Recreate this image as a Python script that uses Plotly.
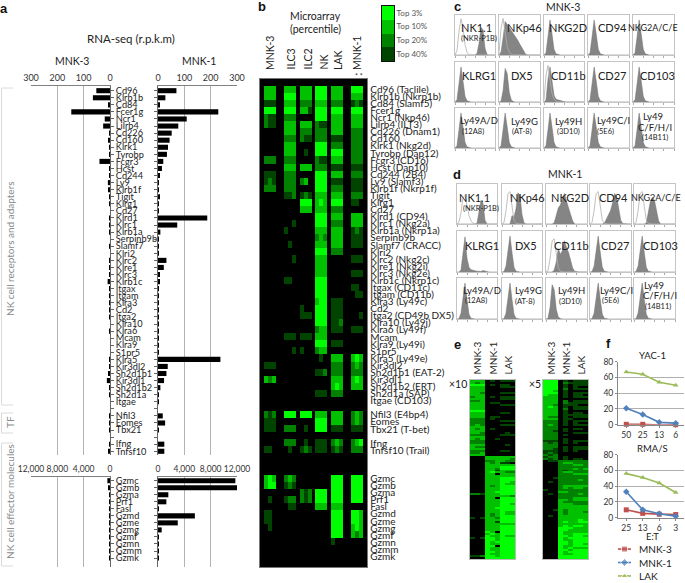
import plotly.graph_objects as go

W, H = 685, 583
FONT = "Lato"

# ---------- panel a data ----------
GENES_A = ["Cd96","Klrb1b","Cd84","Fcer1g","Ncr1","Lilrb4","Cd226","Cd160","Klrk1","Tyrobp",
           "Fcgr3","Hcst","Cd244","Ly9","Klrb1f","Tigit","Klrg1","Cd27","Klrd1","Klrc1",
           "Klrb1a","Serpinb9b","Slamf7","Klri2","Klrc2","Klre1","Klrc3","Klrb1c","Itgax","Itgam",
           "Klra3","Cd2","Itga2","Klra10","Klra6","Mcam","Klra9","S1pr5","Klra5","Kir3dl2",
           "Sh2d1b1","Kir3dl1","Sh2d1b2","Sh2d1a","Itgae","","Nfil3","Eomes","Tbx21","",
           "Ifng","Tnfsf10"]
RPKM_MNK3 = [52,65,4,147,20,26,2,5,1,1,
             40,1,1,8,5,1,1,0,1,1,
             1,0,1,0,1,1,1,9,1,1,
             1,1,1,0,1,0,0,0,1,3,
             5,12,1,1,0,0,1,3,1,0,
             1,4]
RPKM_MNK1 = [70,28,5,229,109,77,52,44,38,34,
             20,15,7,1,2,4,1,1,187,73,
             9,2,2,1,32,22,5,5,2,3,
             2,1,2,1,2,1,1,1,237,37,
             32,23,9,1,1,0,18,27,1,0,
             24,24]
GENES_EFF = ["Gzmc","Gzmb","Gzma","Prf1","Fasl","Gzmd","Gzme","Gzmg","Gzmf","Gzmn","Gzmm","Gzmk"]
EFF_MNK3 = [400,250,20,20,5,10,10,5,5,5,5,5]
EFF_MNK1 = [11750,12000,1570,1270,30,5600,3000,560,80,20,20,20]

# ---------- panel b data ----------
GENES_B = ["Cd96 (Taclile)","Klrb1b (Nkrp1b)","Cd84 (Slamf5)","Fcer1g","Ncr1 (Nkp46)","Lilrb4 (ILT3)",
           "Cd226 (Dnam1)","Cd160","Klrk1 (Nkg2d)","Tyrobp (Dap12)","Fcgr3 (CD16)","Hcst (Dap10)",
           "Cd244 (2B4)","Ly9 (Slamf3)","Klrb1f (Nkrp1f)","Tigit","Klrg1","Cd27","Klrd1 (CD94)",
           "Klrc1 (Nkg2a)","Klrb1a (Nkrp1a)","Serpinb9b","Slamf7 (CRACC)","Klri2","Klrc2 (Nkg2c)",
           "Klre1 (Nkg2i)","Klrc3 (Nkg2e)","Klrb1c (Nkrp1c)","Itgax (CD11c)","Itgam (CD11b)",
           "Klra3 (Ly49c)","Cd2","Itga2 (CD49b DX5)","Klra10 (Ly49j)","Klra6 (Ly49f)","Mcam",
           "Klra9 (Ly49i)","S1pr5","Klra5 (Ly49e)","Kir3dl2","Sh2d1b1 (EAT-2)","Kir3dl1",
           "Sh2d1b2 (ERT)","Sh2d1a (SAP)","Itgae (CD103)","","Nfil3 (E4bp4)","Eomes","Tbx21 (T-bet)","",
           "Ifng","Tnfsf10 (Trail)","","","","Gzmc","Gzmb","Gzma","Prf1","Fasl","Gzmd","Gzme","Gzmg",
           "Gzmf","Gzmn","Gzmm","Gzmk"]
B_MNK3 = ("333 333 111 444 211 211 000 000 000 000 "
          "222 000 111 121 222 000 000 000 000 000 "
          "000 000 000 000 000 000 000 000 000 000 "
          "000 000 000 000 000 000 000 000 000 111 "
          "000 323 000 000 000 000 212 111 111 000 "
          "000 110 000 000 000 343 344 000 010 000 "
          "110 110 010 000 000 000 000").split()
B_ILC3 = ("333 444 333 444 222 333 333 222 333 333 "
          "222 333 222 222 222 112 000 000 000 001 "
          "100 000 010 000 001 000 000 110 000 000 "
          "000 000 000 000 000 111 000 001 000 000 "
          "000 000 000 000 000 000 444 000 222 000 "
          "222 010 000 000 000 232 121 000 122 011 "
          "000 000 000 000 000 000 000").split()
B_ILC2 = ("333 333 222 331 000 333 222 211 000 010 "
          "000 333 000 230 000 121 444 333 000 000 "
          "000 000 000 000 000 000 000 000 000 000 "
          "000 100 111 000 000 111 000 100 000 000 "
          "000 000 000 000 000 000 444 000 010 000 "
          "010 121 000 000 000 000 000 212 212 000 "
          "000 000 000 000 000 000 000").split()
B_NK = ("444 444 333 444 444 211 222 222 444 444 "
        "211 222 444 444 444 333 343 333 444 444 "
        "333 232 333 444 333 333 333 444 444 444 "
        "344 444 444 444 233 333 444 233 010 000 "
        "112 000 000 111 000 000 333 444 444 000 "
        "111 111 000 000 000 000 000 444 444 333 "
        "000 000 000 000 000 000 000").split()
B_LAK = ("333 333 222 444 333 333 333 111 222 444 "
         "333 111 333 111 222 333 444 222 333 222 "
         "333 333 333 222 000 000 000 000 000 000 "
         "111 111 111 112 111 000 111 000 333 222 "
         "222 333 343 222 000 000 333 333 111 000 "
         "232 121 000 000 000 444 444 444 444 333 "
         "444 444 444 444 100 000 000").split()
B_MNK1 = ("444 333 121 444 333 333 222 222 222 222 "
          "222 111 222 111 111 222 110 000 333 333 "
          "121 111 111 000 111 000 111 000 110 011 "
          "000 000 001 000 111 000 000 000 343 232 "
          "222 343 333 000 000 000 232 232 111 000 "
          "234 222 000 000 000 444 444 444 444 000 "
          "443 443 343 323 000 000 000").split()
B_COLUMNS = ["MNK-3","ILC3","ILC2","NK","LAK","MNK-1"]
SCALE_LEVELS = [4,3,2,1]
SCALE_LABELS = ["Top 3%","Top 10%","Top 20%","Top 40%"]

# ---------- panels c, d data: histogram heights on a 21-bin channel grid ----------
NEG_A = [0,6,48,92,55,15,3,1,0,0,0,0,0,0,0,0,0,0,0,0,0]
NEG_B = [0,1,15,60,92,50,12,2,0,0,0,0,0,0,0,0,0,0,0,0,0]
NEG_C = [0,2,30,88,75,25,5,1,0,0,0,0,0,0,0,0,0,0,0,0,0]
C_NK11 = [0,0,0,0,0,0,0,0,0,0,0,4,30,72,66,18,1,0,0,0,0]
ISO_A = [0,12,62,95,72,28,7,1,0,0,0,0,0,0,0,0,0,0,0,0,0]
C_NKP46 = [0,8,45,88,80,72,65,58,50,40,30,20,8,2,0,0,0,0,0,0,0]
ISO_B = [5,70,96,60,22,8,2,0,0,0,0,0,0,0,0,0,0,0,0,0,0]
C_CD11B = [0,5,60,92,55,18,7,5,4,3,1,0,0,0,0,0,0,0,0,0,0]
D_NK11 = [0,0,0,0,0,0,0,0,0,0,2,30,62,55,10,0,0,0,0,0,0]
D_ISO = [0,5,30,70,75,50,22,8,2,0,0,0,0,0,0,0,0,0,0,0,0]
D_NKP46 = [0,0,0,0,0,22,18,40,82,75,25,3,0,0,0,0,0,0,0,0,0]
D_ISO2 = [0,4,35,80,85,40,10,2,0,0,0,0,0,0,0,0,0,0,0,0,0]
D_NKG2D = [0,0,0,0,3,25,42,50,65,80,60,45,25,8,0,0,0,0,0,0,0]
D_CD94 = [0,0,0,0,0,0,0,2,12,22,35,55,80,72,35,10,1,0,0,0,0]
D_NKG2A = [0,0,0,0,0,0,2,30,60,70,62,35,8,0,0,0,0,0,0,0,0]
D_KLRG1 = [0,0,5,55,90,35,12,6,4,3,2,2,1,4,2,0,0,0,0,0,0]
D_CD11B = [0,0,0,0,5,25,60,45,55,80,62,50,30,10,2,0,0,0,0,0,0]

HIST_C = [[C_NK11,C_NKP46,NEG_A,NEG_A,NEG_A],
          [NEG_A,NEG_C,C_CD11B,NEG_A,NEG_A],
          [NEG_A,NEG_A,NEG_A,NEG_A,NEG_A]]
ISO_C = [[ISO_A,ISO_B,None,None,None],
         [None,None,ISO_B,None,None],
         [None,None,None,None,None]]
HIST_D = [[D_NK11,D_NKP46,D_NKG2D,D_CD94,D_NKG2A],
          [D_KLRG1,NEG_B,D_CD11B,NEG_B,NEG_B],
          [NEG_B,NEG_B,NEG_C,NEG_B,NEG_B]]
ISO_D = [[D_ISO,D_ISO2,None,D_ISO2,D_ISO2],
         [None,None,D_ISO2,None,None],
         [None,None,None,None,None]]

# ---------- panel e data: per-sample replicate columns, top to bottom ----------
E10_MNK3 = ["33433333232333343332222333323322333223"+"0000000000000000000200000000000100000000010000000010",
            "32433333332333343332223323323222323223"+"0000000000000000000200000000000000000000000000000010",
            "33433323333333343332222333223322323233"+"0000000000000000000100000000000100000000010000000020"]
E10_MNK1 = ["00000000000000000000000000000000000000"+"3323333333333333333333333333333333333343444444444444",
            "10100000100100000011000010000000000000"+"3322333343333332333333333333322333333334344334334344",
            "00000000000100000010000000000100000000"+"3333332130333333334330333343333231333303333430333334"]
E10_LAK = ["10110010110010001000101000010000000100"+"3331344333344444444434444444444444344444444444444444",
           "10110010110010001000101000110000100100"+"3321344323344434444434444444334444344444344444444444",
           "10010010110010000000101000010000000000"+"3220344323344334444424443444334444344444344444444444"]
E5_MNK3 = ["4444444433333333333322222222221222211212"+"00000000000000010000000000000000000000000000000000",
           "4444444333333433332322322222221122212121"+"10000000000100000100000000001000000000000000000000",
           "4444434333332333332322222122221222111222"+"10000000010000000000000001000000000000000000000000"]
E5_MNK1 = ["0000000000000000000000000000000000000000"+"22222222222222223222333333333333334444444444444444",
           "1211211110221121111111101101011101110011"+"23222132222223323222323332223334344433433443343344",
           "0100000000011000010100000000000000000000"+"23222232222223222222223333333333334333343333434344"]
E5_LAK = ["1111101110111110111011101010001101110001"+"22323223222223322223322333333333343334444444344444",
          "1110101110110110111010101010001001100001"+"22322223223223322323322333333344343334444444344444",
          "1110101010110110011010100010001001100000"+"22223223222223222223322333233334333334344434344444"]

# ---------- panel f data ----------
YAC_CATS = ["50","25","13","6"]
YAC_MNK3 = [0.5,0.5,-0.5,0]
YAC_MNK1 = [21,13,3,2]
YAC_LAK = [67,64,54,50]
RMA_CATS = ["25","13","6","3"]
RMA_MNK3 = [10,5.5,4.5,4]
RMA_MNK1 = [33,10,5,2]
RMA_LAK = [56,51,44,32]
SERIES_NAMES = ["MNK-3","MNK-1","LAK"]
SERIES_COLORS = ["#C0504D","#4F81BD","#9BBB59"]
SERIES_SYMBOLS = ["square","diamond","triangle-up"]

GREEN = [[0,"#000000"],[0.25,"#004400"],[0.5,"#008200"],[0.75,"#00c000"],[1,"#00ff00"]]

fig = go.Figure()
layout = {}
annots = []
shapes = []
_n = [1]

def axes(l, r, t, b, xo, yo):
    _n[0] += 1
    n = _n[0]
    layout[f"xaxis{n}"] = dict(domain=[l/W, r/W], anchor=f"y{n}", automargin=False, **xo)
    layout[f"yaxis{n}"] = dict(domain=[1-b/H, 1-t/H], anchor=f"x{n}", automargin=False, **yo)
    return f"x{n}", f"y{n}"

def text(x, y, s, size=10, color="#222", angle=0, xa="center", ya="middle", family=FONT, bold=False):
    annots.append(dict(x=x/W, y=1-y/H, xref="paper", yref="paper", text=f"<b>{s}</b>" if bold else s,
                       showarrow=False, xanchor=xa, yanchor=ya, textangle=angle,
                       font=dict(size=size, color=color, family=family)))

# ---------- panel a ----------
def bar_panel(vals, genes, rng, tickv, l, r, t, b, row0, rowh, left, tsize):
    rows = list(range(len(genes)))
    xo = dict(range=rng, side="top", showgrid=True, gridcolor="#b4b4b4", gridwidth=1, zeroline=False,
              tickvals=tickv, tickformat=",", ticks="", tickangle=0,
              tickfont=dict(size=tsize, color="#333", family=FONT),
              showline=True, linecolor="#808080", linewidth=1.3, fixedrange=True)
    yo = dict(range=[(b-row0)/rowh, (t-row0)/rowh], tickvals=rows, ticks="outside", ticklen=3, tickcolor="#666",
              showgrid=False, zeroline=False, showline=True, linecolor="#666", linewidth=1)
    if left:
        yo.update(side="right", ticktext=genes, showticklabels=True,
                  tickfont=dict(size=9.2, color="#222", family=FONT))
    else:
        yo.update(side="left", showticklabels=False)
    xa, ya = axes(l, r, t, b, xo, yo)
    fig.add_bar(x=vals, y=rows, orientation="h", width=0.72, marker=dict(color="#000000", line_width=0),
                xaxis=xa, yaxis=ya, showlegend=False)

bar_panel(RPKM_MNK3, GENES_A, [300,0], [0,100,200,300], 31, 110, 86, 455, 90.7, 7.07, True, 9)
bar_panel(RPKM_MNK1, GENES_A, [0,300], [0,100,200,300], 158, 237, 86, 455, 90.7, 7.07, False, 9)
bar_panel(EFF_MNK3, GENES_EFF, [12000,0], [0,4000,8000,12000], 31, 110, 477, 567, 480.7, 7.03, True, 8.5)
bar_panel(EFF_MNK1, GENES_EFF, [0,12000], [0,4000,8000,12000], 158, 237, 477, 567, 480.7, 7.03, False, 8.5)

text(131, 38, "RNA-seq (r.p.k.m)", 11.5)
text(72, 61, "MNK-3", 10.5)
text(199, 61, "MNK-1", 10.5)
text(10, 249, "NK cell receptors and adapters", 10, "#8a8a8a", -90)
text(10, 422, "TF", 10, "#8a8a8a", -90)
text(10, 502, "NK cell effector molecules", 10, "#8a8a8a", -90)
for y0, y1 in [(88,405),(413,433),(443,566)]:
    shapes.append(dict(type="path", xref="paper", yref="paper",
                       path=f"M {13/W} {1-y0/H} L {1.5/W} {1-y0/H} L {1.5/W} {1-y1/H} L {13/W} {1-y1/H}",
                       line=dict(color="#d0d0d0", width=0.8)))

# ---------- panel b ----------
NROWS = len(GENES_B)
B_ALL = [B_MNK3, B_ILC3, B_ILC2, B_NK, B_LAK, B_MNK1]
B_START = [1, 6, 10, 14, 18, 23]
z_b = [[0]*27 for _ in range(NROWS)]
for lst, s in zip(B_ALL, B_START):
    for i, tok in enumerate(lst):
        for j, ch in enumerate(tok):
            z_b[i][s+j] = int(ch)
PAD_TOP = [[0]*27, [0]*27]
PAD_BOTTOM = [[0]*27, [0]*27]
z_b_full = PAD_TOP + z_b + PAD_BOTTOM
xa, ya = axes(260, 367.3, 79, 567,
              dict(range=[-0.5,26.5], showticklabels=False, ticks="", showgrid=False, zeroline=False,
                   showline=True, mirror=True, linecolor="#777", linewidth=1),
              dict(range=[67.5,-1.46], side="right", tickvals=list(range(NROWS)), ticktext=GENES_B, ticks="",
                   tickfont=dict(size=10, color="#222", family=FONT), showgrid=False, zeroline=False,
                   showline=True, mirror=True, linecolor="#777", linewidth=1))
fig.add_heatmap(z=z_b_full, x=list(range(27)), y=list(range(-2, NROWS+2)), colorscale=GREEN, zmin=0, zmax=4,
                showscale=False, xaxis=xa, yaxis=ya, xgap=0, ygap=0)
for name, x in zip(B_COLUMNS, [270,290,307,323,338,357]):
    text(x, 72, name, 10.5, angle=-90, ya="bottom")
text(359, 76, "* *", 7, "#333")
text(315, 16, "Microarray", 10.5)
text(315, 28.5, "(percentile)", 10.5)
xa, ya = axes(382, 394, 6, 61,
              dict(range=[-0.5,0.5], showticklabels=False, ticks="", showgrid=False, zeroline=False,
                   showline=True, mirror=True, linecolor="#111", linewidth=1),
              dict(range=[3.5,-0.5], side="right", tickvals=[0,1,2,3], ticktext=SCALE_LABELS, ticks="",
                   tickfont=dict(size=8, color="#555", family=FONT), showgrid=False, zeroline=False,
                   showline=True, mirror=True, linecolor="#111", linewidth=1))
fig.add_heatmap(z=[[v] for v in SCALE_LEVELS], x=[0], y=[0,1,2,3], colorscale=GREEN, zmin=0, zmax=4,
                showscale=False, xaxis=xa, yaxis=ya)

# ---------- panels c, d ----------
GRID = [i/20 for i in range(21)]
def hist_block(columns, rows, hist, iso):
    for ri, (t, b) in enumerate(rows):
        for ci, (l, r) in enumerate(columns):
            xa, ya = axes(l, r, t, b,
                          dict(range=[0,1], showticklabels=False, ticks="outside", ticklen=2, tickcolor="#aaa",
                               tickvals=[0,0.25,0.5,0.75,1], showgrid=False, zeroline=False,
                               showline=True, mirror=True, linecolor="#c4c4c4", linewidth=1),
                          dict(range=[0,105], showticklabels=False, ticks="", showgrid=False, zeroline=False,
                               showline=True, mirror=True, linecolor="#c4c4c4", linewidth=1))
            fig.add_scatter(x=GRID, y=hist[ri][ci], mode="lines", fill="tozeroy", fillcolor="#858585",
                            line=dict(color="#707070", width=0.5), xaxis=xa, yaxis=ya, showlegend=False)
            if iso[ri][ci] is not None:
                fig.add_scatter(x=GRID, y=iso[ri][ci], mode="lines", line=dict(color="#b0b0b0", width=0.8),
                                xaxis=xa, yaxis=ya, showlegend=False)

hist_block([(455,495),(499,540),(544,584),(588,629),(633,674)], [(15,55),(62,102),(108,148)], HIST_C, ISO_C)
hist_block([(457,497),(502,542),(546,587),(590,631),(634,675)], [(184,224),(231,272),(278,319)], HIST_D, ISO_D)

text(563, 7, "MNK-3", 10.5)
text(565, 174, "MNK-1", 10.5)
labels_c = [(476,28,"NK1.1",11),(479,39,"(NKR-P1B)",7.5),(524,28,"NKp46",11),(568,28,"NKG2D",11),(612,28,"CD94",11),
            (653,27,"NKG2A/C/E",9),(479,75,"KLRG1",11),(522,75,"DX5",11),(568,75,"CD11b",11),(612,75,"CD27",11),
            (657,75,"CD103",11),(479,121,"Ly49A/D",9.5),(473,131,"(12A8)",7.5),(524,122,"Ly49G",9.5),(522,132,"(AT-8)",7.5),
            (568,122,"Ly49H",9.5),(568,132,"(3D10)",7.5),(613,121,"Ly49C/I",9.5),(605,131,"(5E6)",7.5),(653,116,"Ly49",9.5),
            (655,127,"C/F/H/I",9.5),(655,137,"(14B11)",7.5)]
labels_d = [(474,197,"NK1.1",11),(481,209,"(NKR-P1B)",7.5),(527,197,"NKp46",11),(570,197,"NKG2D",11),(613,197,"CD94",11),
            (656,197,"NKG2A/C/E",9),(482,245,"KLRG1",11),(526,245,"DX5",11),(571,245,"CD11b",11),(615,245,"CD27",11),
            (660,245,"CD103",11),(482,290,"Ly49A/D",9.5),(476,300,"(12A8)",7.5),(528,290,"Ly49G",9.5),(525,301,"(AT-8)",7.5),
            (571,290,"Ly49H",9.5),(570,301,"(3D10)",7.5),(616,290,"Ly49C/I",9.5),(610,300,"(5E6)",7.5),(654,285,"Ly49",9.5),
            (660,295,"C/F/H/I",9.5),(658,306,"(14B11)",7.5)]
for x, y, s, size in labels_c + labels_d:
    text(x, y, s, size, "#222")

# ---------- panel e ----------
def heat_e(cols, l, r):
    nrows = max(len(c) for c in cols)
    m = [[int(c[i]) if i < len(c) else 0 for c in cols] for i in range(nrows)]
    xa, ya = axes(l, r, 380, 559,
                  dict(range=[-0.5,8.5], showticklabels=False, ticks="", showgrid=False, zeroline=False,
                       showline=True, mirror=True, linecolor="#bbbbbb", linewidth=1),
                  dict(range=[nrows-0.5,-0.5], showticklabels=False, ticks="", showgrid=False, zeroline=False,
                       showline=True, mirror=True, linecolor="#bbbbbb", linewidth=1))
    fig.add_heatmap(z=m, colorscale=GREEN, zmin=0, zmax=4, showscale=False, xaxis=xa, yaxis=ya)

heat_e(E10_MNK3 + E10_MNK1 + E10_LAK, 470, 515)
heat_e(E5_MNK3 + E5_MNK1 + E5_LAK, 543, 588)
for x, s in zip([477,493,508,551,566,581], SERIES_NAMES*2):
    text(x, 377, s, 10, angle=-90, ya="bottom")
text(458, 384, "×10", 10.5)
text(535, 384, "×5", 10.5)

# ---------- panel f ----------
def line_panel(cats, series, t, b):
    xa, ya = axes(618, 684, t, b,
                  dict(type="category", range=[-0.5,3.5], tickvals=cats, ticktext=cats, ticks="outside", ticklen=2,
                       tickcolor="#888", tickfont=dict(size=8.5, color="#333", family=FONT), showgrid=False,
                       zeroline=False, showline=True, linecolor="#888", linewidth=1),
                  dict(range=[0,80], tickvals=[0,20,40,60,80], ticks="outside", ticklen=2, tickcolor="#888",
                       tickfont=dict(size=8.5, color="#333", family=FONT), showgrid=True, gridcolor="#b0b0b0",
                       zeroline=False, showline=True, linecolor="#888", linewidth=1))
    for name, vals, color, sym in zip(SERIES_NAMES, series, SERIES_COLORS, SERIES_SYMBOLS):
        fig.add_scatter(x=cats, y=vals, mode="lines+markers", name=name, cliponaxis=False,
                        line=dict(color=color, width=1.6), marker=dict(color=color, symbol=sym, size=5),
                        xaxis=xa, yaxis=ya, showlegend=False)

line_panel(YAC_CATS, [YAC_MNK3, YAC_MNK1, YAC_LAK], 361.7, 424.7)
line_panel(RMA_CATS, [RMA_MNK3, RMA_MNK1, RMA_LAK], 454.7, 517.7)
text(652, 355, "YAC-1", 9.5)
text(652, 448, "RMA/S", 9.5)
text(652, 536, "E:T", 9.5)

# legend keys drawn on their own small axis, since the rows are tighter than a native legend allows
xa, ya = axes(618, 631, 543, 582,
              dict(range=[0,1], visible=False), dict(range=[2.45,-0.45], visible=False))
for i, (name, color, sym) in enumerate(zip(SERIES_NAMES, SERIES_COLORS, SERIES_SYMBOLS)):
    fig.add_scatter(x=[0,0.5,1], y=[i,i,i], mode="lines+markers", line=dict(color=color, width=1.6),
                    marker=dict(color=color, symbol=sym, size=[0,6,0]), xaxis=xa, yaxis=ya, showlegend=False,
                    name=name)
    text(637, 549+13.5*i, name, 10, "#222", xa="left")

# ---------- panel letters ----------
for x, y, s in [(4,8,"a"),(262,7,"b"),(457,7,"c"),(457,174,"d"),(457,344,"e"),(608,343,"f")]:
    text(x, y, s, 13, "#111", family="Liberation Sans", bold=True)

fig.update_layout(width=W, height=H, margin=dict(l=0,r=0,t=0,b=0), paper_bgcolor="white", plot_bgcolor="white",
                  annotations=annots, shapes=shapes, barmode="overlay", font=dict(family=FONT),
                  showlegend=False, **layout)
fig.write_html("out.html", config={"displayModeBar": False},
               post_script="document.body.style.margin='0';document.body.style.overflow='hidden';")
